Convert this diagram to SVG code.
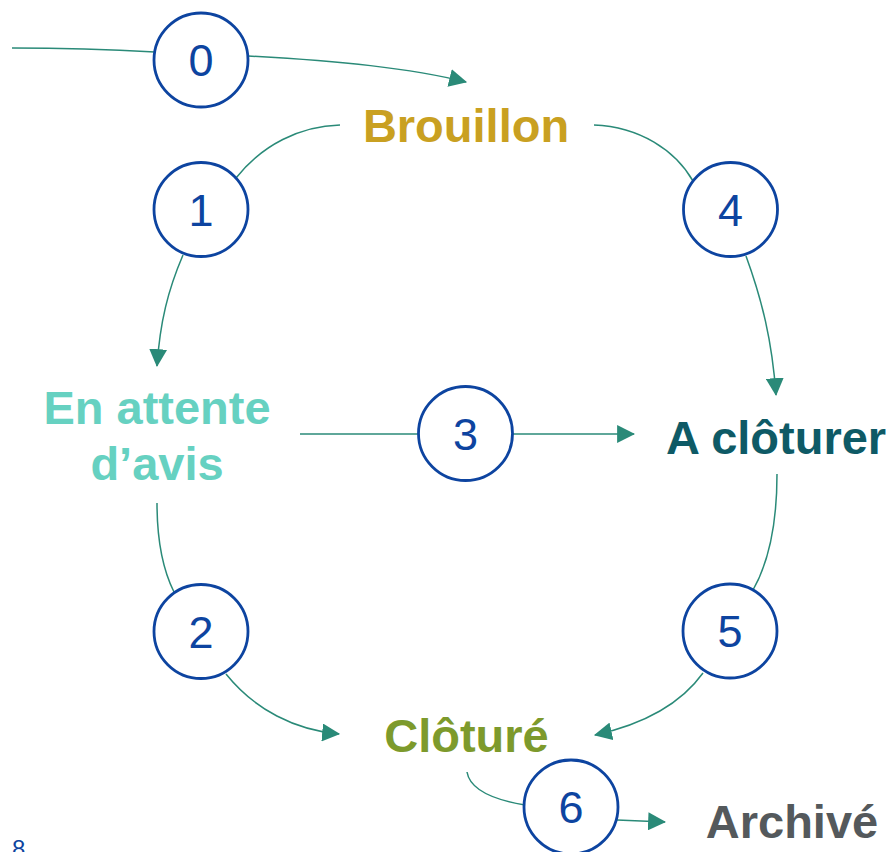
<svg xmlns="http://www.w3.org/2000/svg" width="892" height="852" viewBox="0 0 892 852">
<style>
.conn{fill:none;stroke:#2a8a78;stroke-width:1.5}
.st circle{fill:#fff;stroke:#0d44a0;stroke-width:2.8}
.st text{font-family:"Liberation Sans",Arial,sans-serif;font-size:45px;fill:#0d44a0;text-anchor:middle}
.lbl{font-family:"Liberation Sans",Arial,sans-serif;font-size:47px;font-weight:bold;text-anchor:middle}
</style>
<defs>
<marker id="ah" markerUnits="userSpaceOnUse" markerWidth="18" markerHeight="18" viewBox="0 0 16 16" refX="15" refY="8" orient="auto">
<path d="M0,0 L16,8 L0,16 Z" fill="#2a8a78"/>
</marker>
</defs>
<g id="connectors">
<path class="conn" d="M12,48 C80,48 120,50 155,52"/>
<path class="conn" d="M248,56 C340,61 410,68 466,82" marker-end="url(#ah)"/>
<path class="conn" d="M340,125 C300,126 262,145 236,178"/>
<path class="conn" d="M183,255 C168,290 160,322 157,366" marker-end="url(#ah)"/>
<path class="conn" d="M594,125 C640,127 675,150 693,181"/>
<path class="conn" d="M746,256 C762,300 772,340 776,395" marker-end="url(#ah)"/>
<path class="conn" d="M300,434 L419,434"/>
<path class="conn" d="M512,434 L634,434" marker-end="url(#ah)"/>
<path class="conn" d="M157,503 C157,540 163,570 174,592"/>
<path class="conn" d="M226,674 C255,710 295,730 339,734" marker-end="url(#ah)"/>
<path class="conn" d="M777,474 C777,520 770,560 753,590"/>
<path class="conn" d="M703,673 C680,705 640,725 595,735" marker-end="url(#ah)"/>
<path class="conn" d="M467,772 C470,790 495,800 525,805"/>
<path class="conn" d="M617,820 L665,822" marker-end="url(#ah)"/>
</g>
<g id="step0" class="st"><circle cx="201" cy="60" r="47"/><text x="201" y="76">0</text></g>
<g id="step1" class="st"><circle cx="201" cy="209.5" r="47"/><text x="201" y="225.5">1</text></g>
<g id="step4" class="st"><circle cx="730.5" cy="209.5" r="47"/><text x="730.5" y="225.5">4</text></g>
<g id="step3" class="st"><circle cx="465.5" cy="433.5" r="47"/><text x="465.5" y="449.5">3</text></g>
<g id="step2" class="st"><circle cx="201" cy="631.5" r="47"/><text x="201" y="647.5">2</text></g>
<g id="step5" class="st"><circle cx="730" cy="631" r="47"/><text x="730" y="647">5</text></g>
<g id="step6" class="st"><circle cx="571" cy="807" r="47"/><text x="571" y="823">6</text></g>
<g id="brouillon"><text class="lbl" x="466" y="142" fill="#c9a021">Brouillon</text></g>
<g id="attente"><text class="lbl" x="157" y="424" fill="#66d1c1">En attente</text><text class="lbl" x="157" y="480" fill="#66d1c1">d’avis</text></g>
<g id="acloturer"><text class="lbl" x="776" y="454" fill="#0e5a66">A clôturer</text></g>
<g id="cloture"><text class="lbl" x="466.5" y="752" fill="#7d9a2c">Clôturé</text></g>
<g id="archive"><text class="lbl" x="792" y="838" font-size="46" fill="#54595c">Archivé</text></g>
<text x="12" y="857" font-family="'Liberation Sans',Arial,sans-serif" font-size="24" fill="#0d44a0">8</text>
</svg>
